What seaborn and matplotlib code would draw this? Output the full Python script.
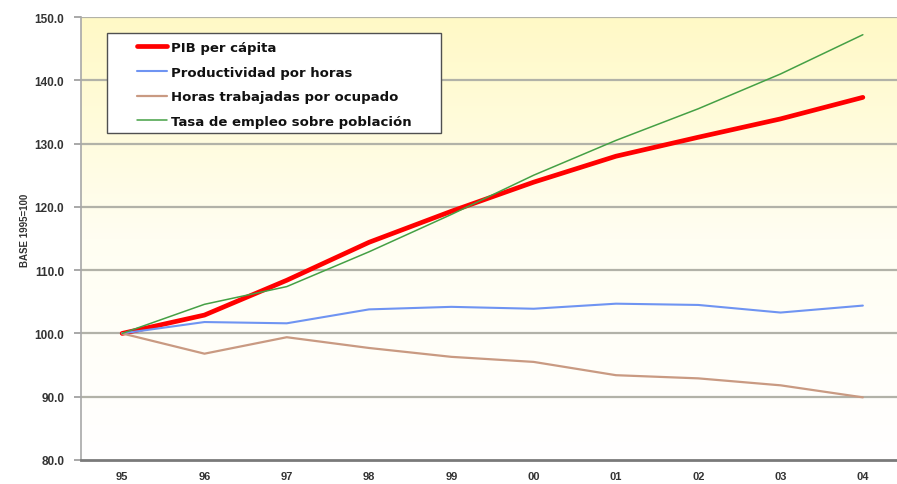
import numpy as np
import pandas as pd
import matplotlib
matplotlib.use("Agg")
import matplotlib.pyplot as plt
import seaborn as sns
from matplotlib.colors import LinearSegmentedColormap
from matplotlib.patches import Rectangle

# Data (base 1995 = 100)
years = ["95", "96", "97", "98", "99", "00", "01", "02", "03", "04"]
pib = [100.0, 102.9, 108.4, 114.4, 119.3, 123.9, 128.0, 131.0, 133.9, 137.3]
productividad = [100.0, 101.8, 101.6, 103.8, 104.2, 103.9, 104.7, 104.5, 103.3, 104.4]
horas = [100.0, 96.8, 99.4, 97.7, 96.3, 95.5, 93.4, 92.9, 91.8, 89.9]
empleo = [100.0, 104.6, 107.4, 112.9, 118.8, 125.0, 130.5, 135.5, 141.0, 147.2]

series_names = ["PIB per cápita", "Productividad por horas",
                "Horas trabajadas por ocupado", "Tasa de empleo sobre población"]
series_values = [pib, productividad, horas, empleo]
colors = ["#ff0000", "#6f94f2", "#c99a82", "#45a045"]
widths = [3.4, 1.5, 1.6, 1.1]

sns.set_theme(style="white")
plt.rcParams["font.family"] = ["Liberation Sans", "DejaVu Sans"]

fig = plt.figure(figsize=(8.97, 4.85), dpi=100)
# plot area in pixels: x 81..904, y 18..461 (right side cut by the image)
ax = fig.add_axes([81 / 897, (485 - 461) / 485, 823 / 897, 443 / 485])

# background gradient, pale yellow on top fading to white
cmap = LinearSegmentedColormap.from_list("bg", ["#ffffff", "#fffef2", "#fff9c6"])
grad = np.linspace(0, 1, 256).reshape(-1, 1)
ax.imshow(grad, cmap=cmap, origin="lower", aspect="auto",
          extent=(-0.5, 9.5, 80, 150), zorder=0)

x = np.arange(len(years))
for name, vals, c, lw in zip(series_names, series_values, colors, widths):
    df = pd.DataFrame({"x": x, "valor": vals})
    sns.lineplot(data=df, x="x", y="valor", color=c, linewidth=lw,
                 ax=ax, label=name, zorder=3)

ax.set_xlim(-0.5, 9.5)
ax.set_ylim(80, 150)

# horizontal gridlines
ax.set_yticks(np.arange(80, 151, 10))
ax.set_yticklabels([f"{v:.1f}" for v in range(80, 151, 10)])
for v in range(90, 151, 10):
    ax.axhline(v, color="#b2b2a8", linewidth=1.6, zorder=1)

ax.set_xticks(x)
ax.set_xticklabels(years)
ax.set_xticks(np.arange(-0.5, 10, 1), minor=True)
ax.tick_params(axis="x", which="major", length=0, pad=8,
               labelsize=8, labelcolor="#333333")
ax.tick_params(axis="x", which="minor", length=3, direction="inout",
               color="#777777", width=0.8)
ax.tick_params(axis="y", which="major", length=5, direction="out", pad=7,
               color="#999999", width=1.2, labelsize=8.5, labelcolor="#333333", left=True)
for lab in ax.get_xticklabels() + ax.get_yticklabels():
    lab.set_fontweight("bold")

ax.set_xlabel("")
ax.set_ylabel("BASE 1995=100", fontsize=7, fontweight="bold", color="#333333")
ax.yaxis.set_label_coords(-0.062, 0.52)

for s in ["top", "right"]:
    ax.spines[s].set_visible(False)
ax.spines["left"].set_color("#a8a8a8")
ax.spines["left"].set_linewidth(1.2)
ax.spines["bottom"].set_color("#7a7a7a")
ax.spines["bottom"].set_linewidth(2.0)

# legend with its own box
box = Rectangle((107 / 897, 1 - 134 / 485), (441 - 107) / 897, 100 / 485,
                transform=fig.transFigure, facecolor="white", edgecolor="#505050",
                linewidth=1.0, zorder=4, clip_on=False)
ax.add_patch(box)
handles, labels = ax.get_legend_handles_labels()
leg = ax.legend(handles, labels, loc="upper left",
                bbox_to_anchor=(137 / 897, 1 - 42 / 485),
                bbox_transform=fig.transFigure, frameon=False, borderpad=0,
                borderaxespad=0, handlelength=2.3, handletextpad=0.25,
                labelspacing=0.88,
                prop={"family": "DejaVu Sans", "size": 9.5, "weight": "bold"})
leg.set_zorder(5)
for t in leg.get_texts():
    t.set_color("#111111")

fig.savefig("out.png", dpi=100)
